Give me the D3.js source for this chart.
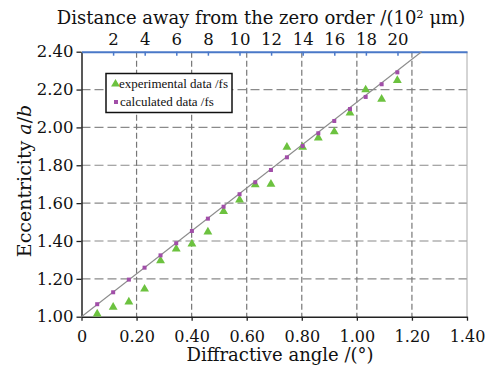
<!DOCTYPE html>
<html>
<head>
<meta charset="utf-8">
<script src="https://cdn.jsdelivr.net/npm/d3@7"></script>
<style>
  body { margin: 0; background: #fff; }
  svg { display: block; }
  .tick text { font-family: 'DejaVu Serif', serif; }
</style>
</head>
<body>
<div id="chart"></div>
<script>
// Diffractive angle (deg) of each order
const angles = [0.057, 0.115, 0.172, 0.229, 0.287, 0.344, 0.401, 0.459, 0.516, 0.574,
                0.631, 0.688, 0.746, 0.803, 0.860, 0.918, 0.975, 1.032, 1.090, 1.147];

// experimental eccentricity a/b
const experimental = [1.015, 1.050, 1.078, 1.146, 1.296, 1.358, 1.385, 1.448, 1.556, 1.617,
                      1.697, 1.700, 1.896, 1.896, 1.945, 1.977, 2.076, 2.199, 2.149, 2.248];

// calculated eccentricity a/b
const calculated = [1.066, 1.129, 1.196, 1.259, 1.324, 1.388, 1.453, 1.518, 1.581, 1.647,
                    1.710, 1.775, 1.842, 1.902, 1.969, 2.034, 2.097, 2.161, 2.228, 2.291];

// linear trend line through the calculated data
const trendX = [0, 1.235];
const trendY = [1.00, 2.40];

const xTicks = [0, 0.2, 0.4, 0.6, 0.8, 1.0, 1.2, 1.4];
const yTicks = [1.0, 1.2, 1.4, 1.6, 1.8, 2.0, 2.2, 2.4];
const topTicks = [2, 4, 6, 8, 10, 12, 14, 16, 18, 20];
const topMax = 24.4; // distance (10^2 um) at angle 1.40

const width = 491, height = 369;
const margin = {top: 51.7, right: 24, bottom: 52.3, left: 81.5};
const w = width - margin.left - margin.right;
const h = height - margin.top - margin.bottom;

const svg = d3.select('#chart').append('svg')
  .attr('width', width)
  .attr('height', height);

const g = svg.append('g')
  .attr('transform', 'translate(' + margin.left + ',' + margin.top + ')');

const x = d3.scaleLinear().domain([0, 1.4]).range([0, w]);
const y = d3.scaleLinear().domain([1.0, 2.4]).range([h, 0]);
const xTop = d3.scaleLinear().domain([0, topMax]).range([0, w]);

// Grid lines
g.selectAll('.hgrid').data(yTicks.filter(v => v > 1.0 && v < 2.4))
  .enter().append('line')
  .attr('x1', 0).attr('x2', w)
  .attr('y1', d => y(d)).attr('y2', d => y(d))
  .attr('stroke', '#8a8a8a').attr('stroke-width', 1.2)
  .attr('stroke-dasharray', '9,4');

g.selectAll('.vgrid').data(xTicks.filter(v => v > 0 && v < 1.4))
  .enter().append('line')
  .attr('x1', d => x(d)).attr('x2', d => x(d))
  .attr('y1', 0).attr('y2', h)
  .attr('stroke', '#777').attr('stroke-width', 1.2)
  .attr('stroke-dasharray', '6,3');

// right border
g.append('line')
  .attr('x1', w).attr('x2', w).attr('y1', 0).attr('y2', h)
  .attr('stroke', '#aaa').attr('stroke-width', 1);

// Bottom axis
const xAxis = g.append('g')
  .attr('transform', 'translate(0,' + h + ')')
  .call(d3.axisBottom(x).tickValues(xTicks).tickSize(4).tickSizeOuter(0)
    .tickFormat(d => d === 0 ? '0' : d3.format('.2f')(d)));
xAxis.select('.domain').attr('stroke', '#222').attr('stroke-width', 1.5);
xAxis.selectAll('.tick line').attr('stroke', '#222').attr('stroke-width', 1.3);
xAxis.selectAll('.tick text').attr('font-size', 16).attr('fill', '#111').attr('y', 10).attr('dy', '0.95em');

// Left axis
const yAxis = g.append('g')
  .call(d3.axisLeft(y).tickValues(yTicks).tickSize(5).tickSizeOuter(0)
    .tickFormat(d3.format('.2f')));
yAxis.select('.domain').attr('stroke', '#222').attr('stroke-width', 1.5);
yAxis.selectAll('.tick line').attr('stroke', '#222').attr('stroke-width', 1.3);
yAxis.selectAll('.tick text').attr('font-size', 16.5).attr('fill', '#111').attr('x', -8);

// Top axis (distance from the zero order)
const topAxis = g.append('g')
  .call(d3.axisTop(xTop).tickValues(topTicks).tickSize(-4).tickSizeOuter(0));
topAxis.select('.domain').attr('stroke', '#4a78c8').attr('stroke-width', 2);
topAxis.selectAll('.tick line').attr('stroke', '#4a78c8').attr('stroke-width', 1.5);
topAxis.selectAll('.tick text').attr('font-size', 16.5).attr('fill', '#111').attr('y', -7);

// Axis titles
svg.append('text')
  .attr('x', 280).attr('y', 361)
  .attr('text-anchor', 'middle')
  .attr('font-family', 'DejaVu Serif, serif').attr('font-size', 18).attr('fill', '#111')
  .text('Diffractive angle /(°)');

const topTitle = svg.append('text')
  .attr('x', 261).attr('y', 24)
  .attr('text-anchor', 'middle')
  .attr('font-family', 'DejaVu Serif, serif').attr('font-size', 18).attr('fill', '#111');
topTitle.append('tspan').text('Distance away from the zero order /(10');
topTitle.append('tspan').attr('dy', -6).attr('font-size', 11.5).text('2');
topTitle.append('tspan').attr('dy', 6).text(' μm)');

const yTitle = svg.append('text')
  .attr('transform', 'translate(31,181) rotate(-90)')
  .attr('text-anchor', 'middle')
  .attr('font-family', 'DejaVu Serif, serif').attr('font-size', 19).attr('fill', '#111');
yTitle.append('tspan').text('Eccentricity ');
yTitle.append('tspan').attr('font-style', 'italic').text('a');
yTitle.append('tspan').text('/');
yTitle.append('tspan').attr('font-style', 'italic').text('b');

// Trend line
g.append('path')
  .datum(trendX.map((v, i) => [v, trendY[i]]))
  .attr('fill', 'none').attr('stroke', '#8c8c8c').attr('stroke-width', 1.1)
  .attr('d', d3.line().x(d => x(d[0])).y(d => y(d[1])));

// Experimental points (triangles)
const tri = d3.symbol().type(d3.symbolTriangle).size(34);
g.selectAll('.exp').data(angles)
  .enter().append('path')
  .attr('class', 'exp')
  .attr('transform', (d, i) => 'translate(' + x(d) + ',' + y(experimental[i]) + ')')
  .attr('d', tri)
  .attr('fill', '#6cc23f');

// Calculated points (squares)
g.selectAll('.calc').data(angles)
  .enter().append('rect')
  .attr('class', 'calc')
  .attr('x', d => x(d) - 2).attr('y', (d, i) => y(calculated[i]) - 2)
  .attr('width', 4).attr('height', 4)
  .attr('fill', '#a14ea8');

// Legend
const legend = svg.append('g').attr('transform', 'translate(106,73.5)');
legend.append('rect')
  .attr('width', 126).attr('height', 39)
  .attr('fill', '#fff').attr('stroke', '#111').attr('stroke-width', 1.5);
legend.append('path')
  .attr('transform', 'translate(9.5,10.5)')
  .attr('d', tri).attr('fill', '#6cc23f');
legend.append('rect')
  .attr('x', 8).attr('y', 26.5).attr('width', 4).attr('height', 4)
  .attr('fill', '#a14ea8');
legend.append('text')
  .attr('x', 13).attr('y', 14)
  .attr('font-family', 'Liberation Serif, serif').attr('font-size', 13).attr('fill', '#111')
  .text('experimental data /fs');
legend.append('text')
  .attr('x', 14).attr('y', 32.5)
  .attr('font-family', 'Liberation Serif, serif').attr('font-size', 13).attr('fill', '#111')
  .text('calculated data /fs');
</script>
</body>
</html>
